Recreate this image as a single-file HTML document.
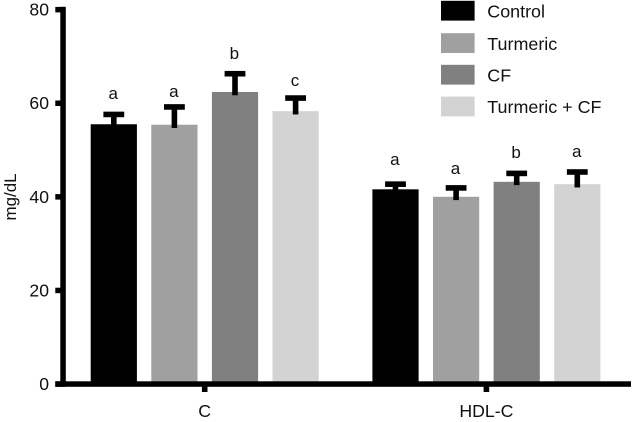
<!DOCTYPE html>
<html>
<head>
<meta charset="utf-8">
<style>
html,body{margin:0;padding:0;background:#fff;}
svg{display:block;font-family:"Liberation Sans",Arial,sans-serif;fill:#111;}
</style>
</head>
<body>
<svg id="chart" xmlns="http://www.w3.org/2000/svg" width="633" height="422" viewBox="0 0 633 422"></svg>
<script>
const categories = ['C', 'HDL-C'];
const seriesNames = ['Control', 'Turmeric', 'CF', 'Turmeric + CF'];
const seriesColors = ['#000000', '#a0a0a0', '#808080', '#d3d3d3'];
const controlValues = [55.5, 41.6];
const turmericValues = [55.4, 40.0];
const cfValues = [62.4, 43.2];
const turmericCfValues = [58.3, 42.7];
const controlErrors = [2.1, 1.1];
const turmericErrors = [3.8, 1.9];
const cfErrors = [3.9, 1.8];
const turmericCfErrors = [2.8, 2.6];
const controlLetters = ['a', 'a'];
const turmericLetters = ['a', 'a'];
const cfLetters = ['b', 'b'];
const turmericCfLetters = ['c', 'a'];
/* height of each significance letter's baseline, in axis units */
const controlLetterLevels = [60.9, 46.8];
const turmericLetterLevels = [61.3, 44.9];
const cfLetterLevels = [69.4, 48.3];
const turmericCfLetterLevels = [63.7, 48.5];
const yTicks = [0, 20, 40, 60, 80];
const yTitle = 'mg/dL';

const allValues = [controlValues, turmericValues, cfValues, turmericCfValues];
const allErrors = [controlErrors, turmericErrors, cfErrors, turmericCfErrors];
const allLetters = [controlLetters, turmericLetters, cfLetters, turmericCfLetters];
const allLetterLevels = [controlLetterLevels, turmericLetterLevels, cfLetterLevels, turmericCfLetterLevels];

const svg = document.getElementById('chart');
const NS = 'http://www.w3.org/2000/svg';
function add(tag, attrs, text) {
  const el = document.createElementNS(NS, tag);
  for (const k in attrs) el.setAttribute(k, attrs[k]);
  if (text !== undefined) el.textContent = text;
  svg.appendChild(el);
  return el;
}
function slug(s) { return s.toLowerCase().replace(/[^a-z0-9]+/g, '-').replace(/-$/, ''); }

const y0 = 384, yMax = 80, yPx = 4.68;
function yScale(v) { return y0 - v * yPx; }
const groupStart = [90.7, 372.4], groupStep = 60.6, barW = 46.2;
function xBar(g, s) { return groupStart[g] + s * groupStep; }
function xCat(g) { return xBar(g, 0) + (3 * groupStep + barW) / 2; }

/* bars */
categories.forEach((cat, g) => {
  seriesNames.forEach((name, s) => {
    const v = allValues[s][g];
    const r = add('rect', {x: xBar(g, s), y: yScale(v), width: barW, height: y0 - yScale(v), fill: seriesColors[s]});
    
    
  });
});

/* error bars and significance letters */
categories.forEach((cat, g) => {
  seriesNames.forEach((name, s) => {
    const v = allValues[s][g], e = allErrors[s][g];
    const cx = xBar(g, s) + barW / 2;
    const top = yScale(v + e);
    const stem = add('rect', {x: cx - 2.8, y: top, width: 5.6, height: yScale(v) + 3.3 - top, fill: '#000'});
    
    
    const cap = add('rect', {x: cx - 10.4, y: top - 2.8, width: 20.8, height: 5.6, fill: '#000'});
    
    
    const t = add('text', {x: cx - 0.6, y: yScale(allLetterLevels[s][g]), 'text-anchor': 'middle', 'font-size': 17}, allLetters[s][g]);
    
    
  });
});

/* axes */
const yAxis = add('rect', {x: 60.3, y: yScale(yMax) - 2.8, width: 5.5, height: y0 - yScale(yMax) + 5.6, fill: '#000'});


const xAxis = add('rect', {x: 55.3, y: y0 - 2.7, width: 575.7, height: 5.5, fill: '#000'});



yTicks.forEach(v => {
  const tick = add('rect', {x: 55.3, y: yScale(v) - 2.7, width: 6, height: 5.5, fill: '#000'});
  
  
  const lab = add('text', {x: 49, y: yScale(v) + 6, 'text-anchor': 'end', 'font-size': 17.6}, String(v));
  
  
});

categories.forEach((cat, g) => {
  const cx = xCat(g);
  const tick = add('rect', {x: cx - 2.8, y: y0 + 2, width: 5.6, height: 6, fill: '#000'});
  
  
  const lab = add('text', {x: cx, y: 417, 'text-anchor': 'middle', 'font-size': 17.7}, cat);
  
  
});

const title = add('text', {transform: 'translate(16 197) rotate(-90)', 'text-anchor': 'middle', 'font-size': 16.9}, yTitle);



/* legend */
const legendTop = [0.8, 33.2, 64.8, 96.6];
seriesNames.forEach((name, s) => {
  const sw = add('rect', {x: 441, y: legendTop[s], width: 33.6, height: 19.8, fill: seriesColors[s]});
  
  
  const t = add('text', {x: 487.3, y: legendTop[s] + 16.6, 'font-size': 17.9}, name);
  
  
});
</script>
</body>
</html>
